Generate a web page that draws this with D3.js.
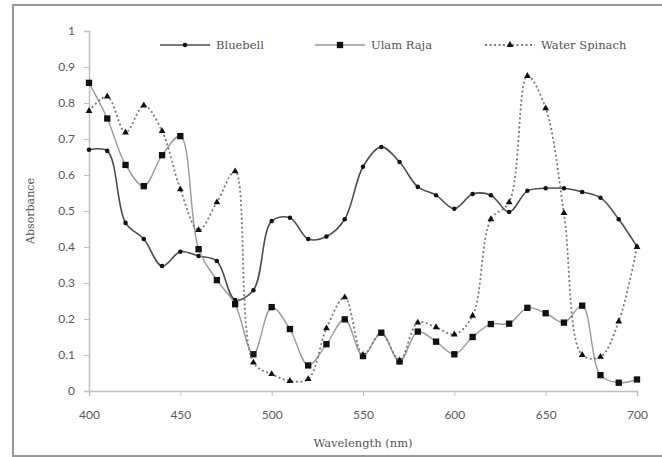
<!DOCTYPE html>
<html>
<head>
<meta charset="utf-8">
<script src="https://cdn.jsdelivr.net/npm/d3@7"></script>
<style>
  body { margin: 0; background: #fff; }
  .tick text { font-family: Lato, "Open Sans", sans-serif; font-size: 12px; fill: #595959; }
  .legend text, .title { font-family: "DejaVu Serif", serif; fill: #555; }
</style>
</head>
<body>
<script>
// wavelengths (nm) and absorbance readings
let wavelength = [400, 410, 420, 430, 440, 450, 460, 470, 480, 490, 500, 510, 520, 530, 540, 550,
                  560, 570, 580, 590, 600, 610, 620, 630, 640, 650, 660, 670, 680, 690, 700];
let bluebell = [0.67, 0.667, 0.467, 0.422, 0.347, 0.387, 0.375, 0.361, 0.253, 0.28, 0.472, 0.481,
                0.422, 0.429, 0.477, 0.623, 0.678, 0.636, 0.567, 0.544, 0.506, 0.547, 0.544, 0.497,
                0.556, 0.563, 0.563, 0.553, 0.537, 0.477, 0.401];
let ulamRaja = [0.856, 0.757, 0.628, 0.569, 0.655, 0.708, 0.394, 0.308, 0.241, 0.102, 0.233, 0.172,
                0.071, 0.13, 0.199, 0.097, 0.162, 0.082, 0.165, 0.137, 0.102, 0.15, 0.186, 0.187,
                0.231, 0.216, 0.19, 0.237, 0.044, 0.023, 0.032];
let waterSpinach = [0.778, 0.818, 0.718, 0.793, 0.722, 0.56, 0.447, 0.524, 0.61, 0.079, 0.047, 0.028,
                    0.033, 0.174, 0.26, 0.1, 0.16, 0.085, 0.19, 0.177, 0.157, 0.209, 0.477, 0.524,
                    0.875, 0.785, 0.494, 0.1, 0.095, 0.193, 0.4];
let xTicks = [400, 450, 500, 550, 600, 650, 700];
let yTicks = [0, 0.1, 0.2, 0.3, 0.4, 0.5, 0.6, 0.7, 0.8, 0.9, 1];

let margin = {top: 31, left: 89, bottom: 66, right: 25};
let W = 662, H = 457;
let width = W - margin.left - margin.right,
    height = H - margin.top - margin.bottom;

let root = d3.select("body").append("svg")
  .attr("width", W).attr("height", H);

// outer frame
root.append("rect")
  .attr("x", 13).attr("y", 5).attr("width", 660).attr("height", 451)
  .attr("fill", "none").attr("stroke", "#999").attr("stroke-width", 2);

let svg = root.append("g").attr("transform", `translate(${margin.left},${margin.top})`);

let x = d3.scaleLinear().domain([400, 700]).range([0, width]);
let y = d3.scaleLinear().domain([0, 1]).range([height, 0]);

let xAxis = svg.append("g")
  .attr("transform", `translate(0,${height})`)
  .call(d3.axisBottom(x).tickValues(xTicks).tickSize(5).tickPadding(14).tickFormat(d3.format("d")));
let yAxis = svg.append("g")
  .call(d3.axisLeft(y).tickValues(yTicks).tickSize(5).tickPadding(9).tickFormat(d => d === 0 || d === 1 ? d : d3.format(".1f")(d)));
[xAxis, yAxis].forEach(a => {
  a.select(".domain").attr("stroke", "#bfbfbf").attr("stroke-width", 1.5);
  a.selectAll(".tick line").attr("stroke", "#bfbfbf");
});

// axis titles
root.append("text").attr("class", "title")
  .attr("x", margin.left + width / 2).attr("y", 447)
  .attr("text-anchor", "middle").attr("font-size", 11.5)
  .text("Wavelength (nm)");
root.append("text").attr("class", "title")
  .attr("transform", "translate(34,211) rotate(-90)")
  .attr("text-anchor", "middle").attr("font-size", 11)
  .text("Absorbance");

let series = [
  {name: "Bluebell", values: bluebell, stroke: "#4d4d4d", width: 1.6, dash: null, marker: "circle", size: 16},
  {name: "Ulam Raja", values: ulamRaja, stroke: "#9a9a9a", width: 1.4, dash: null, marker: "square", size: 40},
  {name: "Water Spinach", values: waterSpinach, stroke: "#7a7a7a", width: 1.8, dash: "2,2.5", marker: "triangle", size: 20}
];
let symbols = {circle: d3.symbolCircle, square: d3.symbolSquare, triangle: d3.symbolTriangle};

let line = d3.line()
  .x((d, i) => x(wavelength[i]))
  .y(d => y(d))
  .curve(d3.curveCatmullRom.alpha(0.5));

series.forEach(s => {
  svg.append("path")
    .datum(s.values)
    .attr("fill", "none")
    .attr("stroke", s.stroke)
    .attr("stroke-width", s.width)
    .attr("stroke-dasharray", s.dash)
    .attr("d", line);
  svg.append("g").selectAll("path")
    .data(s.values)
    .join("path")
    .attr("transform", (d, i) => `translate(${x(wavelength[i])},${y(d)})`)
    .attr("d", d3.symbol(symbols[s.marker], s.size))
    .attr("fill", "#111");
});

// legend
let legendX = [160, 315, 485];
let legend = root.append("g").attr("class", "legend");
series.forEach((s, i) => {
  let g = legend.append("g").attr("transform", `translate(${legendX[i]},45)`);
  g.append("line").attr("x1", 0).attr("x2", 50)
    .attr("stroke", s.stroke).attr("stroke-width", s.width)
    .attr("stroke-dasharray", s.dash);
  g.append("path").attr("transform", "translate(25,0)")
    .attr("d", d3.symbol(symbols[s.marker], s.size)).attr("fill", "#111");
  g.append("text").attr("x", 56).attr("dy", "0.35em")
    .attr("font-size", 11.5).text(s.name);
});
</script>
</body>
</html>
